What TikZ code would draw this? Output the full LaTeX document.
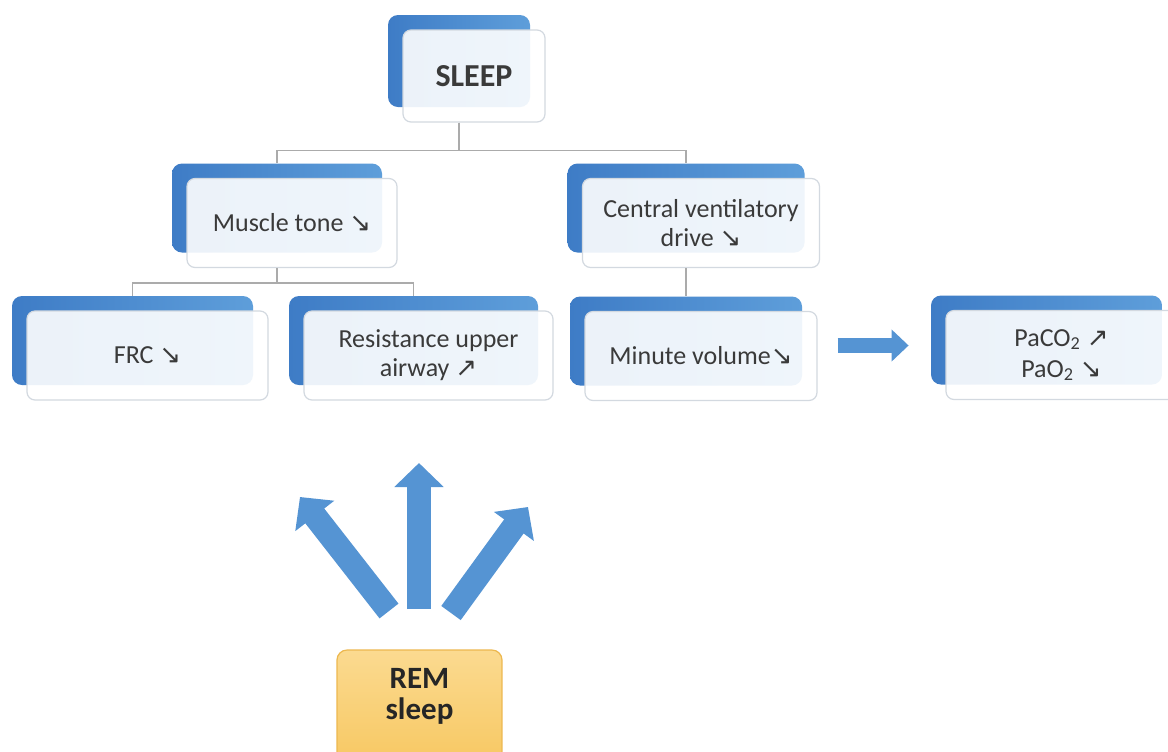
\documentclass[tikz,border=0pt]{standalone}
\usepackage{fontspec}
\setmainfont{Carlito}
\newfontfamily\arrfont{DejaVu Sans}[Scale=1.0]
\usetikzlibrary{arrows.meta}
\definecolor{blueD}{HTML}{3E7CC6}
\definecolor{blueL}{HTML}{5E9EDA}
\definecolor{frameC}{HTML}{D3D9E0}
\definecolor{lineC}{HTML}{ABABAB}
\definecolor{arrC}{HTML}{5594D3}
\definecolor{txtC}{HTML}{3A3A3A}
\definecolor{remTop}{HTML}{FBDA90}
\definecolor{remBot}{HTML}{F7C760}
\definecolor{remEdge}{HTML}{EDB84F}
\newcommand\arrdn{{\arrfont ↘}}
\newcommand\arrup{{\arrfont ↗}}
\newcommand\twobox[6]{%
  \node[backbox, minimum width=#4*0.5pt, minimum height=#5*0.5pt] (#1B) at (#2,#3) {};
  \node[frontbox, minimum width=#4*0.5pt, minimum height=#5*0.5pt] (#1) at (#2+15,#3+15) {#6};
}
\tikzset{
  backbox/.style={rounded corners=5pt, left color=blueD, right color=blueL, draw=none, inner sep=0pt},
  frontbox/.style={rounded corners=4pt, fill=white, fill opacity=0.9, text opacity=1, draw=frameC,
    line width=0.6pt, align=center, inner sep=0pt, text=txtC, font=\fontsize{13}{14.5}\selectfont},
  conn/.style={draw=lineC, line width=0.8pt},
  bigarrow/.style={draw=arrC, line width=12pt, -{Triangle[length=12pt,width=24pt]}},
  smallarrow/.style={draw=arrC, line width=7.5pt, -{Triangle[length=8.5pt,width=15.5pt]}},
  rembox/.style={rounded corners=5pt, top color=remTop, bottom color=remBot, draw=remEdge, line width=0.6pt, inner sep=0pt},
  remtext/.style={font=\bfseries\fontsize{15.5}{15.5}\selectfont, text=black!85, align=center, inner sep=0pt}
}
\begin{document}
\begin{tikzpicture}[x=0.5pt,y=-0.5pt]
\clip (0,0) rectangle (1168,751);
\fill[white] (0,0) rectangle (1168,751);

\twobox{sleep}{459}{61}{142}{92}{\bfseries\fontsize{16}{18}\selectfont SLEEP}
\twobox{muscle}{277}{208}{210}{89}{Muscle tone \arrdn}
\twobox{cvd}{686}{208}{237}{89}{Central ventilatory\\drive \arrdn}
\twobox{frc}{132.5}{340.5}{241}{89}{FRC \arrdn}
\twobox{res}{413.5}{340.5}{249}{89}{Resistance upper\\airway \arrup}
\twobox{minute}{686}{341}{232}{89}{Minute volume\arrdn}
\twobox{pa}{1046.5}{340}{231}{89}{PaCO\textsubscript{2} \arrup\\[1pt]PaO\textsubscript{2} \arrdn}

\draw[conn] (sleepB |- sleep.south) -- ++(0,28) -| (muscleB.north);
\draw[conn] (sleepB |- sleep.south) -- ++(0,28) -| (cvdB.north);
\draw[conn] (muscleB |- muscle.south) -- ++(0,15) -| (frcB.north);
\draw[conn] (muscleB |- muscle.south) -- ++(0,15) -| (resB.north);
\draw[conn] (cvdB |- cvd.south) -- (minuteB.north);

\draw[smallarrow] ([shift={(20,-10.5)}]minute.east) -- ([shift={(-22,5.5)}]paB.west);

\node[rembox, minimum width=165*0.5pt, minimum height=120*0.5pt] (remBox) at (419.5,710) {};
\node[remtext] (rem) at (419.5,696) {REM\\sleep};

\coordinate (tailL) at (389,611);
\coordinate (tailM) at (419,609);
\coordinate (tailR) at (451,613);
\coordinate (tipL) at (300,497);
\coordinate (tipM) at (419,463);
\coordinate (tipR) at (528,507);
\draw[bigarrow] (tailL) -- (tipL);
\draw[bigarrow] (tailM) -- (tipM);
\draw[bigarrow] (tailR) -- (tipR);
\end{tikzpicture}
\end{document}
